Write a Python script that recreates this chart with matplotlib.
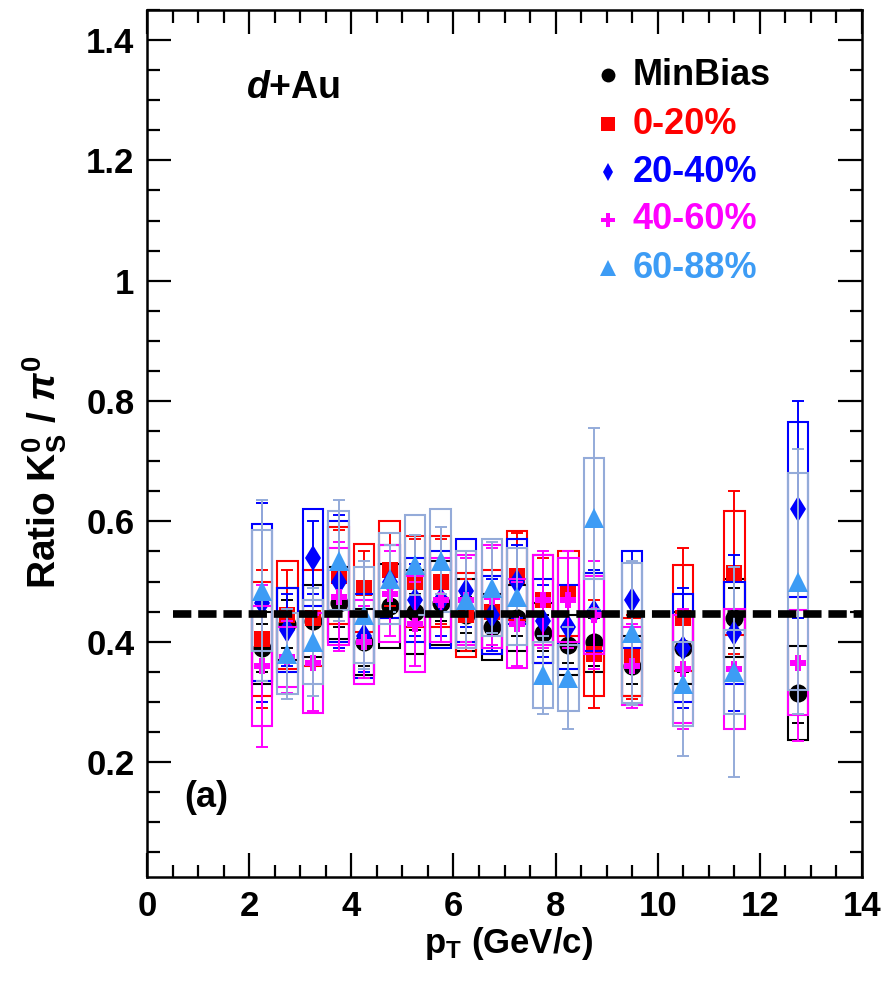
import numpy as np
import matplotlib
matplotlib.use('Agg')
import matplotlib.pyplot as plt
from matplotlib.patches import Rectangle

plt.rcParams['font.family'] = ['Liberation Sans', 'DejaVu Sans']
plt.rcParams['font.weight'] = 'bold'
plt.rcParams['mathtext.fontset'] = 'custom'
plt.rcParams['mathtext.rm'] = 'Liberation Sans:bold'
plt.rcParams['mathtext.it'] = 'Liberation Sans:italic:bold'
plt.rcParams['mathtext.bf'] = 'Liberation Sans:bold'

# ---------------- data ----------------
pt = [2.25, 2.75, 3.25, 3.75, 4.25, 4.75, 5.25, 5.75, 6.25, 6.75, 7.25, 7.75,
      8.25, 8.75, 9.5, 10.5, 11.5, 12.75]

mb_val = [0.39, 0.43, 0.435, 0.465, 0.40, 0.46, 0.45, 0.465, 0.445, 0.425, 0.44, 0.415,
          0.395, 0.40, 0.36, 0.39, 0.44, 0.315]
mb_stat = [0.04, 0.04, 0.06, 0.04, 0.04, 0.03, 0.03, 0.03, 0.03, 0.03, 0.03, 0.03,
           0.03, 0.04, 0.03, 0.04, 0.05, 0.05]
mb_sys = [0.06, 0.06, 0.06, 0.06, 0.055, 0.07, 0.07, 0.07, 0.06, 0.055, 0.055, 0.05,
          0.05, 0.05, 0.05, 0.06, 0.065, 0.078]

c020_val = [0.405, 0.445, 0.44, 0.51, 0.49, 0.52, 0.50, 0.50, 0.445, 0.45, 0.51, 0.47,
            0.48, 0.38, 0.375, 0.44, 0.515, np.nan]
c020_stat = [0.115, 0.075, 0.08, 0.075, 0.06, 0.06, 0.07, 0.07, 0.06, 0.06, 0.07, 0.07,
             0.07, 0.09, 0.07, 0.115, 0.135, np.nan]
c020_sys = [0.095, 0.09, 0.08, 0.08, 0.073, 0.08, 0.075, 0.075, 0.07, 0.07, 0.074, 0.075,
            0.07, 0.07, 0.065, 0.088, 0.103, np.nan]

c2040_val = [0.465, 0.42, 0.54, 0.50, 0.41, 0.50, 0.47, 0.47, 0.485, 0.445, 0.50, 0.435,
             0.425, 0.45, 0.47, 0.39, 0.415, 0.62]
c2040_stat = [0.165, 0.06, 0.06, 0.11, 0.06, 0.06, 0.06, 0.06, 0.06, 0.06, 0.06, 0.06,
              0.07, 0.07, 0.08, 0.10, 0.13, 0.18]
c2040_sys = [0.13, 0.07, 0.08, 0.10, 0.07, 0.06, 0.07, 0.08, 0.085, 0.065, 0.07, 0.07,
             0.07, 0.065, 0.08, 0.09, 0.085, 0.145]

c4060_val = [0.36, 0.375, 0.365, 0.475, 0.40, 0.48, 0.43, 0.47, 0.47, 0.475, 0.43, 0.47,
             0.47, 0.445, 0.36, 0.355, 0.355, 0.365]
c4060_stat = [0.135, 0.06, 0.08, 0.09, 0.06, 0.07, 0.07, 0.07, 0.07, 0.08, 0.07, 0.08,
              0.08, 0.09, 0.07, 0.10, 0.10, 0.13]
c4060_sys = [0.10, 0.05, 0.083, 0.08, 0.07, 0.08, 0.08, 0.07, 0.075, 0.085, 0.074, 0.075,
             0.07, 0.065, 0.065, 0.09, 0.10, 0.087]

c6088_val = [0.485, 0.38, 0.40, 0.535, 0.445, 0.505, 0.527, 0.535, 0.47, 0.49, 0.475, 0.345,
             0.34, 0.605, 0.415, 0.33, 0.35, 0.50]
c6088_stat = [0.15, 0.075, 0.09, 0.10, 0.09, 0.055, 0.05, 0.055, 0.08, 0.075, 0.08, 0.065,
              0.085, 0.15, 0.12, 0.12, 0.175, 0.22]
c6088_sys = [0.10, 0.067, 0.07, 0.083, 0.08, 0.075, 0.083, 0.085, 0.08, 0.08, 0.08, 0.055,
             0.055, 0.10, 0.116, 0.07, 0.07, 0.18]

ref_level = 0.446
labels = ['MinBias', '0-20%', '20-40%', '40-60%', '60-88%']
xticks = [0, 2, 4, 6, 8, 10, 12, 14]
yticks = [0.2, 0.4, 0.6, 0.8, 1.0, 1.2, 1.4]
ytick_labels = ['0.2', '0.4', '0.6', '0.8', '1', '1.2', '1.4']

# ---------------- styles ----------------
series = [
    (mb_val, mb_stat, mb_sys, 'black', 'black', 'o', 13),
    (c020_val, c020_stat, c020_sys, '#ff0000', '#ff0000', 's', 11.5),
    (c2040_val, c2040_stat, c2040_sys, '#0000ff', '#0000ff', 'd', 13),
    (c4060_val, c4060_stat, c4060_sys, '#ff00ff', '#ff00ff', 'P', 12),
    (c6088_val, c6088_stat, c6088_sys, '#3d9cf5', '#94abd9', '^', 14),
]

fig = plt.figure(figsize=(8.83, 9.81), dpi=100)
ax = fig.add_axes([147/883, 1-877/981, 715/883, 867/981])
ax.set_xlim(0, 14)
ax.set_ylim(0.009, 1.45)

half_w = 0.2
for z, (v, st, sy, mcol, bcol, mk, ms) in enumerate(series):
    x = np.array(pt, float)
    v = np.array(v, float); st = np.array(st, float); sy = np.array(sy, float)
    ok = ~np.isnan(v)
    for xi, vi, si in zip(x[ok], v[ok], sy[ok]):
        ax.add_patch(Rectangle((xi - half_w, vi - si), 2*half_w, 2*si, fill=False,
                               edgecolor=bcol, lw=1.5, zorder=2 + z*0.1))
    ax.errorbar(x[ok], v[ok], yerr=st[ok], fmt='none', ecolor=bcol, elinewidth=1.4,
                capsize=4, capthick=1.4, zorder=2.05 + z*0.1)
    ax.plot(x[ok], v[ok], ls='none', marker=mk, ms=ms, color=mcol, mec=mcol,
            mew=0, zorder=2.08 + z*0.1)

ax.plot([0.5, 14], [ref_level, ref_level], color='black', lw=5.5,
        dashes=(2.4, 0.9), zorder=5)

# legend (manual)
leg_y = [0.925, 0.8685, 0.813, 0.758, 0.702]
leg_ms = [10, 10, 9, 10, 12]
for (v, st, sy, mcol, bcol, mk, ms), lab, yy, lms in zip(series, labels, leg_y, leg_ms):
    ax.plot([0.645], [yy], transform=ax.transAxes, marker=mk, ms=lms, color=mcol,
            mew=0, ls='none', clip_on=False)
    ax.text(0.679, yy, lab, transform=ax.transAxes, color=mcol, fontsize=26,
            fontweight='bold', va='center', ha='left')

ax.text(0.139, 0.91, r'$d$+Au', transform=ax.transAxes, fontsize=27,
        fontweight='bold', va='center', ha='left')
ax.text(0.052, 0.092, '(a)', transform=ax.transAxes, fontsize=26, fontweight='bold',
        va='center', ha='left')

# axes styling
ax.set_xticks(xticks)
ax.set_xticklabels([str(t) for t in xticks])
ax.set_xticks(np.arange(0, 14.01, 0.5), minor=True)
ax.set_yticks(yticks)
ax.set_yticklabels(ytick_labels)
ax.set_yticks(np.arange(0.05, 1.451, 0.05), minor=True)
ax.tick_params(which='both', direction='in', top=True, right=True, width=1.6,
               labelsize=25)
ax.tick_params(which='major', length=17, pad=9)
ax.tick_params(which='minor', length=9)
for lab in ax.get_xticklabels() + ax.get_yticklabels():
    lab.set_fontweight('bold')
for s in ax.spines.values():
    s.set_linewidth(1.8)

fig.text(45/883, 1-472/981, r'Ratio K$_\mathrm{S}^\mathrm{0}$ / $\pi^\mathrm{0}$',
         rotation=90, fontsize=28, fontweight='bold', ha='center', va='center')
fig.text(508/883, 1-953/981, r'p$_\mathrm{T}$ (GeV/c)', fontsize=25, fontweight='bold',
         ha='center', va='baseline')

fig.savefig('out.png', dpi=100)
